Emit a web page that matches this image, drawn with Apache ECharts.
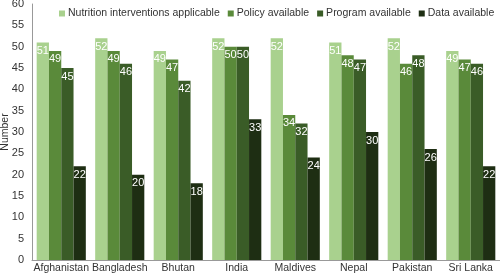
<!DOCTYPE html>
<html>
<head>
<meta charset="utf-8">
<script src="https://cdn.jsdelivr.net/npm/echarts@6/dist/echarts.min.js"></script>
<style>
  html, body { margin: 0; padding: 0; background: #fff; }
  #chart { width: 500px; height: 275px; }
</style>
</head>
<body>
<div id="chart"></div>
<script>
var countries = ['Afghanistan', 'Bangladesh', 'Bhutan', 'India', 'Maldives', 'Nepal', 'Pakistan', 'Sri Lanka'];
var applicable = [51, 52, 49, 52, 52, 51, 52, 49];
var policy = [49, 49, 47, 50, 34, 48, 46, 47];
var program = [45, 46, 42, 50, 32, 47, 48, 46];
var dataAvail = [22, 20, 18, 33, 24, 30, 26, 22];

var myChart = echarts.init(document.getElementById('chart'));

function barSeries(name, values, color) {
    return {
        name: name,
        type: 'bar',
        data: values,
        barGap: '0%',
        barCategoryGap: '16%',
        itemStyle: { color: color },
        label: {
            show: true,
            position: 'insideTop',
            distance: 3,
            color: '#fff',
            fontSize: 11,
            fontFamily: 'Liberation Sans'
        }
    };
}

var option = {
    animation: false,
    textStyle: { fontFamily: 'Liberation Sans' },
    legend: {
        top: 3,
        left: 54,
        width: 446,
        itemWidth: 6,
        itemHeight: 6,
        itemGap: 8,
        icon: 'rect',
        textStyle: { fontSize: 10.5, color: '#333', padding: [0, 0, 0, -2] },
        data: ['Nutrition interventions applicable', 'Policy available', 'Program available', 'Data available']
    },
    grid: {
        top: 4,
        left: 32,
        right: 0,
        bottom: 15,
        outerBoundsMode: 'none',
        containLabel: false
    },
    xAxis: {
        type: 'category',
        data: countries,
        axisLine: { lineStyle: { color: '#999' } },
        axisTick: { show: false },
        axisLabel: { color: '#333', fontSize: 10.5, margin: 3, interval: 0 }
    },
    yAxis: {
        type: 'value',
        min: 0,
        max: 60,
        interval: 5,
        name: 'Number',
        nameLocation: 'middle',
        nameGap: 21,
        nameMoveOverlap: false,
        nameTextStyle: { color: '#333', fontSize: 10.5 },
        splitLine: { show: false },
        axisLine: { show: true, lineStyle: { color: '#999' } },
        axisTick: { show: false },
        axisLabel: { color: '#333', fontSize: 11, margin: 8 }
    },
    series: [
        barSeries('Nutrition interventions applicable', applicable, '#a9d18e'),
        barSeries('Policy available', policy, '#5a8a3a'),
        barSeries('Program available', program, '#3a5c27'),
        barSeries('Data available', dataAvail, '#1e2e13')
    ]
};

myChart.setOption(option);
</script>
</body>
</html>
